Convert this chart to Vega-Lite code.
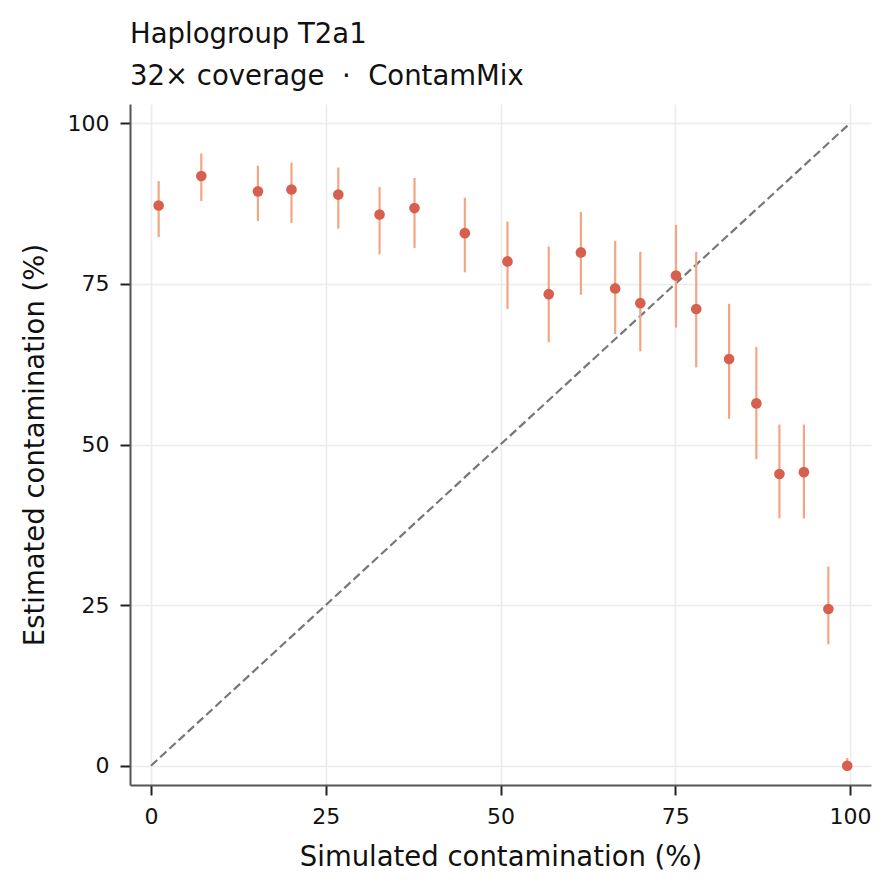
{
  "$schema": "https://vega.github.io/schema/vega-lite/v6.json",
  "autosize": {"type": "none"},
  "padding": {"left": 130, "top": 104, "right": 23, "bottom": 108},
  "width": 741,
  "height": 681,
  "background": "white",
  "config": {
    "font": "DejaVu Sans",
    "view": {"stroke": null},
    "axis": {
      "domainColor": "#555555",
      "domainWidth": 2,
      "tickColor": "#222222",
      "tickWidth": 2,
      "tickSize": 10,
      "labelFont": "DejaVu Sans",
      "labelFontSize": 22,
      "labelColor": "#111111",
      "labelPadding": 11,
      "titleFont": "DejaVu Sans",
      "titleFontSize": 27.5,
      "titleFontWeight": "normal",
      "titleColor": "#111111",
      "gridColor": "#ececec",
      "gridWidth": 1.6
    }
  },
  "title": {
    "text": "Haplogroup T2a1",
    "subtitle": "32× coverage \u00a0·\u00a0 ContamMix",
    "anchor": "start",
    "frame": "group",
    "font": "DejaVu Sans",
    "fontSize": 27.5,
    "fontWeight": "normal",
    "color": "#111111",
    "subtitleFont": "DejaVu Sans",
    "subtitleFontSize": 27.5,
    "subtitleColor": "#111111",
    "subtitlePadding": 14,
    "offset": 14
  },
  "datasets": {
    "points": [
      {"sim": 1.1, "est": 87.2, "lo": 82.3, "hi": 91.0},
      {"sim": 7.2, "est": 91.8, "lo": 87.9, "hi": 95.3},
      {"sim": 15.3, "est": 89.4, "lo": 84.8, "hi": 93.4},
      {"sim": 20.1, "est": 89.7, "lo": 84.5, "hi": 93.9},
      {"sim": 26.8, "est": 88.9, "lo": 83.6, "hi": 93.1},
      {"sim": 32.7, "est": 85.8, "lo": 79.6, "hi": 90.1},
      {"sim": 37.7, "est": 86.8, "lo": 80.6, "hi": 91.5},
      {"sim": 44.9, "est": 82.9, "lo": 76.8, "hi": 88.4},
      {"sim": 51.0, "est": 78.5, "lo": 71.1, "hi": 84.7},
      {"sim": 56.9, "est": 73.4, "lo": 65.9, "hi": 80.8},
      {"sim": 61.5, "est": 79.9, "lo": 73.3, "hi": 86.2},
      {"sim": 66.4, "est": 74.3, "lo": 67.2, "hi": 81.7},
      {"sim": 70.0, "est": 72.0, "lo": 64.5, "hi": 80.0},
      {"sim": 75.1, "est": 76.3, "lo": 68.2, "hi": 84.2},
      {"sim": 78.0, "est": 71.1, "lo": 62.0, "hi": 80.0},
      {"sim": 82.7, "est": 63.3, "lo": 54.0, "hi": 71.9},
      {"sim": 86.6, "est": 56.4, "lo": 47.7, "hi": 65.2},
      {"sim": 89.9, "est": 45.4, "lo": 38.5, "hi": 53.1},
      {"sim": 93.4, "est": 45.7, "lo": 38.5, "hi": 53.1},
      {"sim": 96.9, "est": 24.4, "lo": 18.9, "hi": 31.0},
      {"sim": 99.6, "est": 0.0, "lo": 0.0, "hi": 1.2}
    ],
    "diag": [
      {"sim": 0, "est": 0},
      {"sim": 100, "est": 100}
    ]
  },
  "layer": [
    {
      "data": {"name": "diag"},
      "mark": {"type": "line", "color": "#777777", "strokeWidth": 2.2, "strokeDash": [8.5, 4]},
      "encoding": {
        "x": {
          "field": "sim", "type": "quantitative",
          "scale": {"domain": [-3, 103], "nice": false, "zero": false},
          "axis": {"title": "Simulated contamination (%)", "values": [0, 25, 50, 75, 100], "titlePadding": 16}
        },
        "y": {
          "field": "est", "type": "quantitative",
          "scale": {"domain": [-3, 103], "nice": false, "zero": false},
          "axis": {"title": "Estimated contamination (%)", "values": [0, 25, 50, 75, 100], "titlePadding": 18}
        }
      }
    },
    {
      "data": {"name": "points"},
      "mark": {"type": "rule", "color": "#f4a582", "strokeWidth": 2.2},
      "encoding": {
        "x": {"field": "sim", "type": "quantitative"},
        "y": {"field": "lo", "type": "quantitative"},
        "y2": {"field": "hi"}
      }
    },
    {
      "data": {"name": "points"},
      "mark": {"type": "circle", "color": "#d6604d", "opacity": 1, "size": 113},
      "encoding": {
        "x": {"field": "sim", "type": "quantitative"},
        "y": {"field": "est", "type": "quantitative"}
      }
    }
  ]
}
